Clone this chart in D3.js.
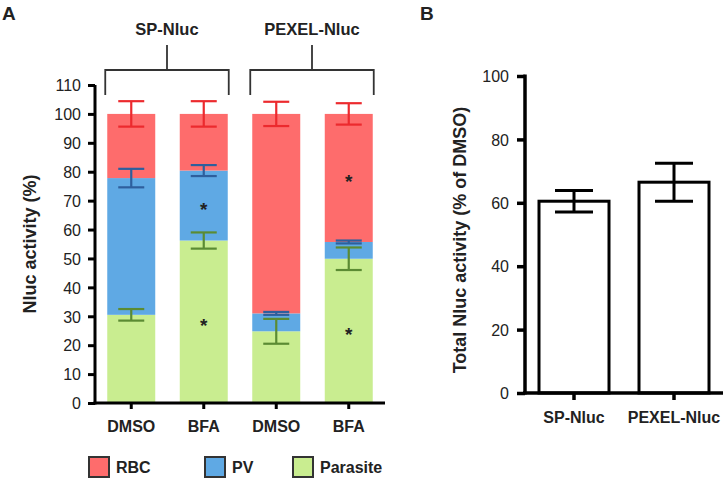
<!DOCTYPE html>
<html><head><meta charset="utf-8">
<script src="https://cdn.jsdelivr.net/npm/d3@7"></script>
<style>body{margin:0;background:#fff}svg{display:block}text{font-family:Arial,"Liberation Sans",sans-serif;fill:#222}</style>
</head><body><svg id="c" width="725" height="481"></svg>
<script>
// ---- Panel A data ----
const constructs = ["SP-Nluc", "PEXEL-Nluc"];
const conditions = ["DMSO", "BFA", "DMSO", "BFA"];
const segments = ["Parasite", "PV", "RBC"];
const parasiteVals = [30.5, 56.2, 24.8, 49.9];
const pvVals = [47.3, 24.2, 6.2, 5.8];
const rbcVals = [22.2, 19.6, 69.0, 44.3];
const parasiteErr = [2.0, 2.8, 4.3, 3.9];
const pvErr = [3.2, 1.9, 0.5, 0.5];
const rbcErr = [4.4, 4.4, 4.2, 3.7];
const starMarks = [[1, "PV"], [1, "Parasite"], [3, "RBC"], [3, "Parasite"]];
const yTicksA = d3.range(0, 111, 10);
// ---- Panel B data ----
const totalLabels = ["SP-Nluc", "PEXEL-Nluc"];
const totalVals = [60.5, 66.5];
const totalErr = [3.4, 6.0];
const yTicksB = [0, 20, 40, 60, 80, 100];

const fills = {RBC: "#fe6c6c", PV: "#5fa9e4", Parasite: "#c9ed90"};
const errCol = {RBC: "#ec2a2e", PV: "#2e5f9d", Parasite: "#5b8b33"};

const svg = d3.select("#c");

// ================= Panel A =================
const xA = d3.scaleBand().domain(d3.range(4)).range([95, 385]).paddingInner(0.338).paddingOuter(0.169);
const yA = d3.scaleLinear().domain([0, 110]).range([403, 85]);

const rows = d3.range(4).map(i => ({i, Parasite: parasiteVals[i], PV: pvVals[i], RBC: rbcVals[i]}));
const stack = d3.stack().keys(segments)(rows);
const errs = {Parasite: parasiteErr, PV: pvErr, RBC: rbcErr};

const gA = svg.append("g");
stack.forEach(layer => {
  gA.selectAll(null).data(layer).enter().append("rect")
    .attr("x", d => xA(d.data.i)).attr("width", xA.bandwidth())
    .attr("y", d => yA(d[1])).attr("height", d => yA(d[0]) - yA(d[1]))
    .attr("fill", fills[layer.key]);
});
// error bars
stack.forEach(layer => {
  const key = layer.key;
  layer.forEach(d => {
    const i = d.data.i, top = d[1], e = errs[key][i];
    const cx = xA(i) + xA.bandwidth() / 2;
    const g = gA.append("g").attr("stroke", errCol[key]).attr("stroke-width", 2.2).attr("fill", "none");
    g.append("line").attr("x1", cx).attr("x2", cx).attr("y1", yA(top - e)).attr("y2", yA(top + e));
    [top - e, top + e].forEach(v => g.append("line").attr("x1", cx - 13).attr("x2", cx + 13).attr("y1", yA(v)).attr("y2", yA(v)));
  });
});
// asterisks
starMarks.forEach(([i, key]) => {
  const layer = stack.find(l => l.key === key);
  const d = layer[i];
  gA.append("text").attr("x", xA(i) + xA.bandwidth() / 2).attr("y", yA((d[0] + d[1]) / 2) + 10)
    .attr("text-anchor", "middle").attr("font-size", 19).attr("font-weight", "bold").text("*");
});
// axes
const axL = gA.append("g").attr("transform", "translate(95,0)")
  .call(d3.axisLeft(yA).tickValues(yTicksA).tickSize(7).tickSizeOuter(0).tickPadding(7));
axL.select(".domain").attr("stroke", "#000").attr("stroke-width", 3).attr("d", `M0,${yA(110)}V${yA(0) + 1.5}`);
axL.selectAll(".tick line").attr("stroke", "#000").attr("stroke-width", 3);
axL.selectAll(".tick text").attr("font-size", 16).attr("font-family", "Arial,'Liberation Sans',sans-serif").attr("fill", "#222").attr("dy", "0.36em");
const axB = gA.append("g").attr("transform", "translate(0,403)")
  .call(d3.axisBottom(xA).tickFormat(i => conditions[i]).tickSize(6).tickSizeOuter(0).tickPadding(12));
axB.select(".domain").attr("stroke", "#000").attr("stroke-width", 3).attr("d", "M93.5,0H385");
axB.selectAll(".tick line").attr("stroke", "#000").attr("stroke-width", 3);
axB.selectAll(".tick text").attr("font-size", 16).attr("font-weight", "bold").attr("font-family", "Arial,'Liberation Sans',sans-serif").attr("fill", "#222");
// brackets
constructs.forEach((c, k) => {
  const x0 = xA(2 * k) - 2, x1 = xA(2 * k + 1) + xA.bandwidth() + 1, cx = (x0 + x1) / 2;
  gA.append("path").attr("d", `M${x0},95V70H${x1}V95M${cx},70V45`).attr("fill", "none").attr("stroke", "#333").attr("stroke-width", 1.8);
  gA.append("text").attr("x", cx).attr("y", 35).attr("text-anchor", "middle").attr("font-size", 16.5).attr("font-weight", "bold").text(c);
});
gA.append("text").attr("transform", "translate(36,244) rotate(-90)").attr("text-anchor", "middle")
  .attr("font-size", 18).attr("font-weight", "bold").text("Nluc activity (%)");
gA.append("text").attr("x", 2).attr("y", 20).attr("font-size", 19).attr("font-weight", "bold").text("A");
// legend
const legendItems = ["RBC", "PV", "Parasite"];
const legX = [89, 205, 293];
legendItems.forEach((k, j) => {
  gA.append("rect").attr("x", legX[j]).attr("y", 457).attr("width", 20).attr("height", 20)
    .attr("fill", fills[k]).attr("stroke", "#333").attr("stroke-width", 2);
  gA.append("text").attr("x", legX[j] + 27).attr("y", 473).attr("font-size", 16).attr("font-weight", "bold").text(k);
});

// ================= Panel B =================
const xB = d3.scaleBand().domain(d3.range(2)).range([525, 723]).paddingInner(0.27).paddingOuter(0.125);
const yB = d3.scaleLinear().domain([0, 100]).range([393, 76]);
const gB = svg.append("g");
gB.selectAll(null).data(totalVals).enter().append("rect")
  .attr("x", (d, i) => xB(i) + 1.5).attr("width", xB.bandwidth() - 3)
  .attr("y", d => yB(d)).attr("height", d => yB(0) - yB(d))
  .attr("fill", "#fff").attr("stroke", "#000").attr("stroke-width", 3);
totalVals.forEach((v, i) => {
  const cx = xB(i) + xB.bandwidth() / 2, e = totalErr[i];
  const g = gB.append("g").attr("stroke", "#000").attr("stroke-width", 3);
  g.append("line").attr("x1", cx).attr("x2", cx).attr("y1", yB(v - e)).attr("y2", yB(v + e));
  [v - e, v + e].forEach(t => g.append("line").attr("x1", cx - 19).attr("x2", cx + 19).attr("y1", yB(t)).attr("y2", yB(t)));
});
const bL = gB.append("g").attr("transform", "translate(525,0)")
  .call(d3.axisLeft(yB).tickValues(yTicksB).tickSize(8).tickSizeOuter(0).tickPadding(8));
bL.select(".domain").attr("stroke", "#000").attr("stroke-width", 3.5).attr("d", `M0,${yB(100) - 1.5}V${yB(0) + 1.5}`);
bL.selectAll(".tick line").attr("stroke", "#000").attr("stroke-width", 3.5);
bL.selectAll(".tick text").attr("font-size", 16).attr("font-family", "Arial,'Liberation Sans',sans-serif").attr("fill", "#222").attr("dy", "0.36em");
const bB = gB.append("g").attr("transform", "translate(0,393)")
  .call(d3.axisBottom(xB).tickFormat(i => totalLabels[i]).tickSize(7).tickSizeOuter(0).tickPadding(12));
bB.select(".domain").attr("stroke", "#000").attr("stroke-width", 3.5).attr("d", "M523,0H723");
bB.selectAll(".tick line").attr("stroke", "#000").attr("stroke-width", 3.5);
bB.selectAll(".tick text").attr("font-size", 16).attr("font-weight", "bold").attr("font-family", "Arial,'Liberation Sans',sans-serif").attr("fill", "#222");
gB.append("text").attr("transform", "translate(466,240) rotate(-90)").attr("text-anchor", "middle")
  .attr("font-size", 18).attr("font-weight", "bold").text("Total Nluc activity (% of DMSO)");
gB.append("text").attr("x", 420).attr("y", 20).attr("font-size", 19).attr("font-weight", "bold").text("B");
</script></body></html>
